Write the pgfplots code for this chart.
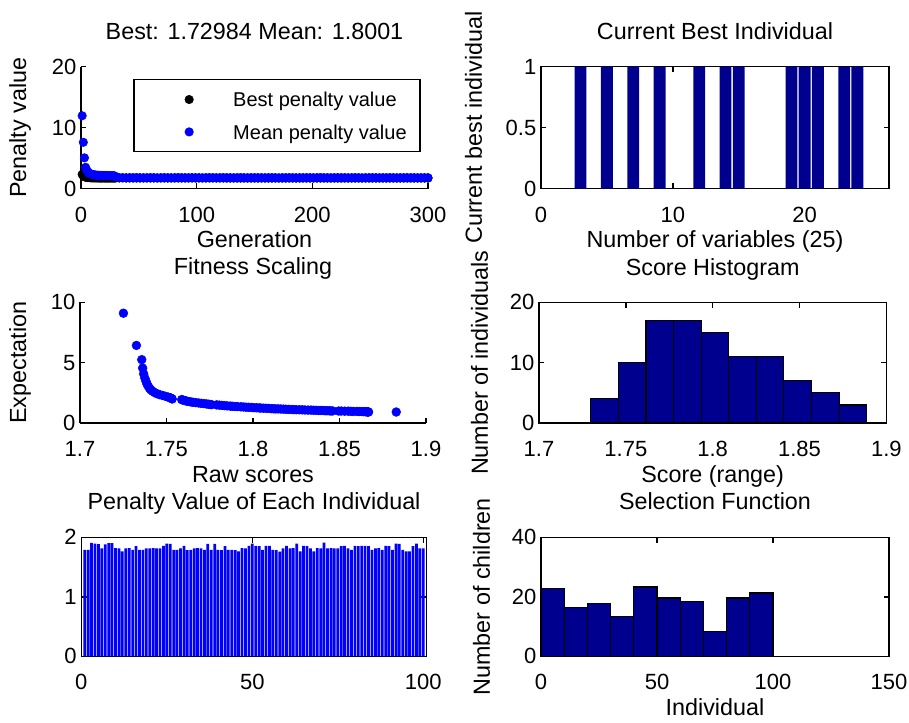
\documentclass[border=0pt]{standalone}
\usepackage{fontspec}
\setmainfont{Liberation Sans}
\usepackage{pgfplots}
\usepackage{pgfplotstable}
\pgfplotsset{compat=1.18}
\definecolor{navy}{rgb}{0,0,0.5625}

\pgfplotstableread{
gen best mean
1 2.35 11.95
2 2.05 7.60
3 1.95 5.05
4 1.88 3.50
5 1.84 3.05
6 1.82 2.75
7 1.80 2.55
8 1.79 2.45
9 1.78 2.38
10 1.78 2.32
11 1.77 2.28
12 1.77 2.25
13 1.76 2.22
14 1.76 2.20
15 1.76 2.19
16 1.75 2.18
17 1.75 2.17
18 1.75 2.18
19 1.75 2.16
20 1.75 2.17
21 1.75 2.15
22 1.75 2.16
23 1.75 2.15
24 1.75 2.14
25 1.75 2.15
26 1.75 2.14
27 1.75 2.13
28 1.75 2.12
29 1.75 2.10
30 1.75 1.95
33 1.75 1.81
36 1.75 1.80
39 1.74 1.79
42 1.74 1.81
45 1.74 1.80
48 1.74 1.82
51 1.74 1.80
54 1.74 1.79
57 1.74 1.80
60 1.74 1.81
63 1.74 1.80
66 1.74 1.78
69 1.74 1.80
72 1.74 1.81
75 1.74 1.80
78 1.74 1.79
81 1.74 1.80
84 1.74 1.82
87 1.74 1.80
90 1.74 1.80
93 1.74 1.79
96 1.74 1.81
99 1.74 1.80
102 1.74 1.80
105 1.74 1.78
108 1.74 1.80
111 1.74 1.81
114 1.74 1.80
117 1.74 1.79
120 1.74 1.80
123 1.74 1.81
126 1.73 1.80
129 1.73 1.80
132 1.73 1.79
135 1.73 1.80
138 1.73 1.82
141 1.73 1.80
144 1.73 1.79
147 1.73 1.80
150 1.73 1.81
153 1.73 1.80
156 1.73 1.80
159 1.73 1.79
162 1.73 1.80
165 1.73 1.81
168 1.73 1.80
171 1.73 1.78
174 1.73 1.80
177 1.73 1.80
180 1.73 1.81
183 1.73 1.80
186 1.73 1.79
189 1.73 1.80
192 1.73 1.80
195 1.73 1.81
198 1.73 1.80
201 1.73 1.79
204 1.73 1.80
207 1.73 1.82
210 1.73 1.80
213 1.73 1.80
216 1.73 1.79
219 1.73 1.80
222 1.73 1.81
225 1.73 1.80
228 1.73 1.80
231 1.73 1.79
234 1.73 1.80
237 1.73 1.81
240 1.73 1.80
243 1.73 1.78
246 1.73 1.80
249 1.73 1.80
252 1.73 1.81
255 1.73 1.80
258 1.73 1.79
261 1.73 1.80
264 1.73 1.80
267 1.73 1.81
270 1.73 1.80
273 1.73 1.79
276 1.73 1.80
279 1.73 1.80
282 1.73 1.81
285 1.73 1.80
288 1.73 1.80
291 1.73 1.79
294 1.73 1.80
297 1.73 1.80
300 1.73 1.80
}\gendata

\pgfplotstableread{
x y
1 0
2 0
3 1
4 0
5 1
6 0
7 1
8 0
9 1
10 0
11 0
12 1
13 0
14 1
15 1
16 0
17 0
18 0
19 1
20 1
21 1
22 0
23 1
24 1
25 0
}\bestinddata

\pgfplotstableread{
score expect
1.7251 9.10
1.7326 6.43
1.7357 5.25
1.7362 4.55
1.7368 4.07
1.7375 3.72
1.7382 3.44
1.7388 3.22
1.7395 3.03
1.7402 2.88
1.7410 2.74
1.7420 2.63
1.7432 2.52
1.7445 2.43
1.7460 2.35
1.7478 2.28
1.7495 2.21
1.7510 2.14
1.7522 2.09
1.7530 2.03
1.7533 1.99
1.7588 1.94
1.7595 1.90
1.7605 1.86
1.7615 1.82
1.7625 1.78
1.7640 1.75
1.7652 1.72
1.7668 1.69
1.7685 1.66
1.7700 1.63
1.7715 1.61
1.7730 1.58
1.7742 1.56
1.7752 1.54
1.7760 1.52
1.7790 1.50
1.7805 1.48
1.7820 1.46
1.7835 1.44
1.7850 1.42
1.7868 1.40
1.7880 1.39
1.7895 1.37
1.7910 1.36
1.7930 1.34
1.7945 1.33
1.7960 1.31
1.7975 1.30
1.7990 1.29
1.8005 1.27
1.8020 1.26
1.8035 1.25
1.8045 1.24
1.8060 1.23
1.8075 1.22
1.8090 1.21
1.8105 1.19
1.8118 1.18
1.8130 1.17
1.8145 1.17
1.8160 1.16
1.8175 1.15
1.8190 1.14
1.8205 1.13
1.8220 1.12
1.8235 1.11
1.8250 1.10
1.8268 1.10
1.8285 1.09
1.8300 1.08
1.8318 1.07
1.8335 1.07
1.8350 1.06
1.8365 1.05
1.8380 1.04
1.8392 1.04
1.8405 1.03
1.8418 1.02
1.8428 1.02
1.8440 1.01
1.8450 1.00
1.8460 1.00
1.8495 0.99
1.8510 0.99
1.8530 0.98
1.8550 0.98
1.8565 0.97
1.8580 0.96
1.8600 0.96
1.8615 0.95
1.8630 0.95
1.8640 0.94
1.8650 0.94
1.8655 0.93
1.8660 0.93
1.8662 0.92
1.8665 0.92
1.8668 0.91
1.8828 0.91
}\scalingdata

\pgfplotstableread{
left count
1.7298 4
1.7457 10
1.7616 17
1.7775 17
1.7934 15
1.8092 11
1.8251 11
1.8410 7
1.8569 5
1.8728 3
1.8887 3
}\scorehistdata

\pgfplotstableread{
ind pen
1 1.788
2 1.790
3 1.905
4 1.895
5 1.885
6 1.815
7 1.882
8 1.900
9 1.902
10 1.818
11 1.815
12 1.762
13 1.815
14 1.817
15 1.788
16 1.852
17 1.787
18 1.790
19 1.815
20 1.815
21 1.816
22 1.815
23 1.814
24 1.855
25 1.893
26 1.890
27 1.787
28 1.789
29 1.815
30 1.856
31 1.786
32 1.788
33 1.815
34 1.816
35 1.814
36 1.788
37 1.891
38 1.787
39 1.890
40 1.788
41 1.786
42 1.853
43 1.787
44 1.789
45 1.786
46 1.761
47 1.816
48 1.815
49 1.854
50 1.892
51 1.855
52 1.853
53 1.788
54 1.855
55 1.854
56 1.787
57 1.786
58 1.760
59 1.815
60 1.856
61 1.815
62 1.817
63 1.893
64 1.762
65 1.854
66 1.852
67 1.815
68 1.761
69 1.816
70 1.815
71 1.910
72 1.815
73 1.816
74 1.814
75 1.815
76 1.853
77 1.855
78 1.815
79 1.788
80 1.854
81 1.853
82 1.855
83 1.854
84 1.853
85 1.787
86 1.815
87 1.816
88 1.788
89 1.854
90 1.853
91 1.787
92 1.892
93 1.890
94 1.788
95 1.761
96 1.762
97 1.853
98 1.893
99 1.815
100 1.815
}\penaltydata

\pgfplotstableread{
left children
0 22.7
10 16.5
20 17.7
30 13.3
40 23.3
50 19.6
60 18.3
70 8.2
80 19.6
90 21.3
100 21.3
}\selectiondata

\pgfplotsset{
  matlab/.style={
    scale only axis,
    font=\fontsize{17.5}{21}\selectfont,
    tick label style={font=\fontsize{16.5}{19.8}\selectfont},
    tick align=inside,
    major tick length=4pt,
    axis line style={line width=1.1pt},
    every tick/.style={black, line width=1.1pt},
    title style={at={(0.5,1)}, anchor=base, yshift=14.5pt},
    xlabel style={at={(0.5,0)}, anchor=base, yshift=-44.5pt},
    xticklabel style={yshift=-5pt},
    scaled ticks=false,
    /pgf/number format/assume math mode=true,
  },
}

\begin{document}
\begin{tikzpicture}
\path[use as bounding box] (0,0) rectangle (681.75pt,541.5pt);

% Top-left: penalty value vs generation
\begin{axis}[matlab, at={(60.75pt,400pt)}, anchor=south west,
  width=260.25pt, height=91.5pt,
  xmin=0, xmax=300, ymin=0, ymax=20,
  xtick={0,100,200,300}, ytick={0,10,20},
  axis x line*=bottom, axis y line*=left, clip=false,
  xticklabel style={yshift=-5pt},
  title={Best: 1.72984 Mean: 1.8001},
  xlabel={Generation}, ylabel={Penalty value},
  ylabel style={at={(axis description cs:-0.158,0.5)}, anchor=base},
  legend style={at={(axis description cs:0.1507,0.899)}, anchor=north west,
    draw=black, line width=1.1pt, inner xsep=5pt, inner ysep=9.5pt,
    row sep=13.6pt, cells={anchor=west},
    nodes={inner xsep=5pt, inner ysep=0pt, text height=10.7pt, text depth=0pt},
    font=\fontsize{15}{18}\selectfont},
  legend image code/.code={\path (0pt,0pt) (63.3pt,0pt);
    \draw[#1, line width=0.4pt] plot coordinates {(35.8pt,0pt)};},
]
\addplot[only marks, mark=*, mark size=3.2pt, black] table[x=gen, y=best] {\gendata};
\addlegendentry{Best penalty value}
\addplot[only marks, mark=*, mark size=3.2pt, blue] table[x=gen, y=mean] {\gendata};
\addlegendentry{Mean penalty value}
\end{axis}

% Top-right: current best individual
\begin{axis}[matlab, at={(405.75pt,400pt)}, anchor=south west,
  width=261pt, height=91.5pt,
  xmin=0, xmax=26.4, ymin=0, ymax=1,
  xtick={0,10,20}, ytick={0,0.5,1},
  xticklabel style={yshift=-5pt},
  title={Current Best Individual},
  xlabel={Number of variables (25)}, ylabel={Current best individual},
  ylabel style={at={(axis description cs:-0.17,0.5)}, anchor=base},
]
\addplot[ybar, bar width=0.9, fill=navy, draw=none] table[x=x, y=y] {\bestinddata};
\end{axis}

% Middle-left: fitness scaling
\begin{axis}[matlab, at={(60pt,224.25pt)}, anchor=south west,
  width=259.5pt, height=90.5pt,
  xmin=1.7, xmax=1.9, ymin=0, ymax=10,
  xtick={1.7,1.75,1.8,1.85,1.9}, ytick={0,5,10},
  xticklabels={1.7,1.75,1.8,1.85,1.9},
  axis x line*=bottom, axis y line*=left, clip=false,
  xticklabel style={yshift=-5pt},
  title={Fitness Scaling},
  xlabel={Raw scores}, ylabel={Expectation},
  ylabel style={at={(axis description cs:-0.156,0.5)}, anchor=base},
]
\addplot[only marks, mark=*, mark size=3.3pt, blue] table[x=score, y=expect] {\scalingdata};
\end{axis}

% Middle-right: score histogram
\begin{axis}[matlab, at={(404.25pt,224.25pt)}, anchor=south west,
  width=260.5pt, height=90.5pt,
  xmin=1.7, xmax=1.9, ymin=0, ymax=20,
  xtick={1.7,1.75,1.8,1.85,1.9}, ytick={0,10,20},
  xticklabels={1.7,1.75,1.8,1.85,1.9},
  xticklabel style={yshift=-5pt},
  title={Score Histogram},
  xlabel={Score (range)}, ylabel={Number of individuals},
  ylabel style={at={(axis description cs:-0.147,0.5)}, anchor=base},
]
\addplot[ybar interval, fill=navy, draw=black, line width=0.9pt] table[x=left, y=count] {\scorehistdata};
\end{axis}

% Bottom-left: penalty value of each individual
\begin{axis}[matlab, at={(61pt,49.3pt)}, anchor=south west,
  width=259pt, height=89.25pt,
  xmin=0, xmax=101, ymin=0, ymax=2,
  xtick={0,50,100}, ytick={0,1,2},
  xticklabel style={yshift=-5pt},
  title={Penalty Value of Each Individual},
]
\addplot[ybar, bar width=0.8, fill=blue, draw=none] table[x=ind, y=pen] {\penaltydata};
\end{axis}

% Bottom-right: selection function
\begin{axis}[matlab, at={(405.75pt,49.3pt)}, anchor=south west,
  width=261pt, height=89.25pt,
  xmin=0, xmax=150, ymin=0, ymax=40,
  xtick={0,50,100,150}, ytick={0,20,40},
  xticklabel style={yshift=-5pt},
  title={Selection Function},
  xlabel={Individual}, ylabel={Number of children},
  ylabel style={at={(axis description cs:-0.147,0.5)}, anchor=base},
]
\addplot[ybar interval, fill=navy, draw=black, line width=0.9pt] table[x=left, y=children] {\selectiondata};
\end{axis}
\end{tikzpicture}
\end{document}
